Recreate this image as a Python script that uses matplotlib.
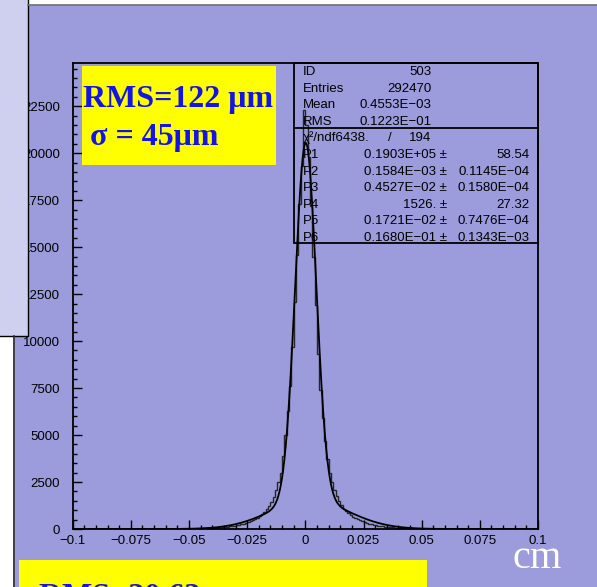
import numpy as np
import matplotlib
matplotlib.use('Agg')
import matplotlib.pyplot as plt
from matplotlib.patches import Rectangle
from matplotlib.ticker import MultipleLocator, FixedLocator
from matplotlib.transforms import Bbox, TransformedBbox

W, H = 597, 587
BG = '#9c9cdc'

# ---------------- data ----------------
# Histogram bin counts (0.001 wide bins, -0.06 .. 0.06) estimated by eye from
# the reference picture; they are approximate readings, not the original data.
bin_width = 0.001
hist_lo = -0.06
left_counts = [3, 3, 4, 4, 5, 6, 7, 8, 9, 10,
               12, 14, 16, 19, 22, 26, 30, 35, 40, 46,
               53, 61, 70, 80, 92, 105, 120, 136, 155, 175,
               198, 225, 255, 290, 330, 370, 420, 470, 530, 600,
               680, 780, 900, 1040, 1200, 1420, 1700, 2050, 2500, 3000,
               3900, 5000, 6300, 7600, 9700, 12100, 14600, 17300, 19300, 22300]
right_counts = [21500, 19800, 17200, 14500, 11900, 9300, 7400, 5900, 4700, 3750,
                3000, 2500, 2100, 1760, 1480, 1260, 1090, 950, 830, 730,
                650, 580, 515, 460, 410, 365, 325, 290, 258, 230,
                205, 182, 162, 144, 128, 113, 100, 88, 78, 68,
                60, 52, 46, 40, 35, 30, 26, 23, 20, 17,
                15, 13, 11, 9, 8, 7, 6, 5, 4, 4]
# Fit parameters as printed in the stats box (P1..P6, double Gaussian)
fit_params = [0.1903e5, 0.1584e-3, 0.4527e-2, 1526., 0.1721e-2, 0.1680e-1]

x_ticks = [-0.1, -0.075, -0.05, -0.025, 0, 0.025, 0.05, 0.075, 0.1]
x_tick_labels = ['\u22120.1', '\u22120.075', '\u22120.05', '\u22120.025', '0',
                 '0.025', '0.05', '0.075', '0.1']
y_ticks = [0, 2500, 5000, 7500, 10000, 12500, 15000, 17500, 20000, 22500]
y_tick_labels = ['0', '2500', '5000', '7500', '10000', '12500', '15000',
                 '17500', '20000', '22500']

stat_rows = [('ID', '503'), ('Entries', '292470'),
             ('Mean', '0.4553E\u221203'), ('RMS', '0.1223E\u221201')]
chi2_label = '\u03c7\u00b2/ndf6438.'
ndf = '194'
fit_rows = [('P1', '0.1903E+05 \u00b1', '58.54'),
            ('P2', '0.1584E\u221203 \u00b1', '0.1145E\u221204'),
            ('P3', '0.4527E\u221202 \u00b1', '0.1580E\u221204'),
            ('P4', '1526. \u00b1', '27.32'),
            ('P5', '0.1721E\u221202 \u00b1', '0.7476E\u221204'),
            ('P6', '0.1680E\u221201 \u00b1', '0.1343E\u221203')]

# The bottom yellow label is cut off in the reference (only ~3 px of glyph
# tops are visible), so its real wording is unreadable. This string is a
# PLACEHOLDER GUESS used only to reproduce the visible glyph tops.
bottom_label_placeholder = 'RMS=30.63 \u03bcm'

# ---------------- figure ----------------
fig = plt.figure(figsize=(W / 100, H / 100), dpi=100, facecolor=BG)
ax_l, ax_r, ax_t, ax_b = 72.7, 538.0, 63.0, 529.0
ax = fig.add_axes([ax_l / W, 1 - ax_b / H, (ax_r - ax_l) / W, (ax_b - ax_t) / H])
ax.set_facecolor('none')

counts = left_counts + right_counts
edges = hist_lo + bin_width * np.arange(len(counts) + 1)
ax.stairs(counts, edges, color='#262626', lw=1.0, baseline=0)

p1, p2, p3, p4, p5, p6 = fit_params
xf = np.linspace(-0.1, 0.1, 4001)
yf = p1 * np.exp(-0.5 * ((xf - p2) / p3) ** 2) + p4 * np.exp(-0.5 * ((xf - p5) / p6) ** 2)
ax.plot(xf, yf, color='black', lw=1.3)

ax.set_xlim(-0.1, 0.1)
ax.set_ylim(0, 24800)
ax.xaxis.set_major_locator(FixedLocator(x_ticks))
ax.set_xticklabels(x_tick_labels)
ax.xaxis.set_minor_locator(MultipleLocator(0.005))
ax.yaxis.set_major_locator(FixedLocator(y_ticks))
ax.set_yticklabels(y_tick_labels)
ax.yaxis.set_minor_locator(MultipleLocator(500))
ax.tick_params(which='both', direction='in', top=False, right=False, color='black', width=1.0)
ax.tick_params(which='major', length=6.5)
ax.tick_params(which='minor', length=3.2)
ax.tick_params(axis='x', which='major', pad=4.5)
ax.tick_params(axis='y', which='major', pad=9)
for lab in ax.get_xticklabels() + ax.get_yticklabels():
    lab.set_fontfamily('Liberation Sans')
    lab.set_fontsize(9.5)
for s in ax.spines.values():
    s.set_linewidth(1.3)
    s.set_color('black')

# ---------------- overlay (pixel coords) ----------------
ov = fig.add_axes([0, 0, 1, 1], zorder=5)
ov.set_xlim(0, W)
ov.set_ylim(H, 0)
ov.axis('off')
ov.patch.set_alpha(0)

# slide decorations
ov.add_patch(Rectangle((28, -5), W, 9.6, fc='white', ec='none'))
ov.plot([28, W], [4.8, 4.8], color='#707070', lw=1.2)
ov.add_patch(Rectangle((-5, 336), 18.3, 300, fc='white', ec='none'))
ov.plot([13.5, 13.5], [336, H + 2], color='#303030', lw=1.2)
ov.add_patch(Rectangle((-5, -5), 33.3, 341, fc='#cfcfef', ec='black', lw=1.0))

# RMS label box
ov.add_patch(Rectangle((82, 65.7), 194, 99, fc='#ffff00', ec='none'))
serif = dict(family='Liberation Serif', weight='bold', color='#1414e6', fontsize=23)
ov.text(83.3, 107.3, 'RMS=122 \u03bcm', va='baseline', ha='left', **serif)
ov.text(90, 145.5, '\u03c3 = 45\u03bcm', va='baseline', ha='left', **serif)

# bottom yellow box (its text is cut by the slide edge: only glyph tops show)
ov.add_patch(Rectangle((19.3, 560), 408, 40, fc='#ffff00', ec='none'))
t_bot = ov.text(39, 583.4, bottom_label_placeholder, va='top', ha='left', **serif)
t_bot.set_clip_box(TransformedBbox(Bbox([[19, 583.4], [428, 600]]), ov.transData))
t_bot.set_clip_on(True)

# unit label
ov.text(513, 568, 'cm', va='baseline', ha='left', family='Liberation Serif',
        color='white', fontsize=29)

# stats box
ov.add_patch(Rectangle((293.5, 63), ax_r - 293.5, 179.5, fc='none', ec='black', lw=1.3))
ov.plot([293.5, ax_r], [128, 128], color='black', lw=1.3)
sans = dict(family='Liberation Sans', fontsize=9.5, color='black', va='baseline')
row_h = 16.6
y0 = 75.0
for i, (lab, val) in enumerate(stat_rows):
    yy = y0 + i * row_h
    ov.text(302.7, yy, lab, ha='left', **sans)
    ov.text(431.7, yy, val, ha='right', **sans)
yy = y0 + 4 * row_h
ov.text(302.7, yy, chi2_label, ha='left', **sans)
ov.text(390, yy, '/', ha='center', **sans)
ov.text(431.7, yy, ndf, ha='right', **sans)
for j, (lab, val, err) in enumerate(fit_rows):
    yy = y0 + (5 + j) * row_h
    ov.text(302.7, yy, lab, ha='left', **sans)
    ov.text(446.7, yy, val, ha='right', **sans)
    ov.text(529.3, yy, err, ha='right', **sans)

fig.savefig('out.png', dpi=100, facecolor=BG)
